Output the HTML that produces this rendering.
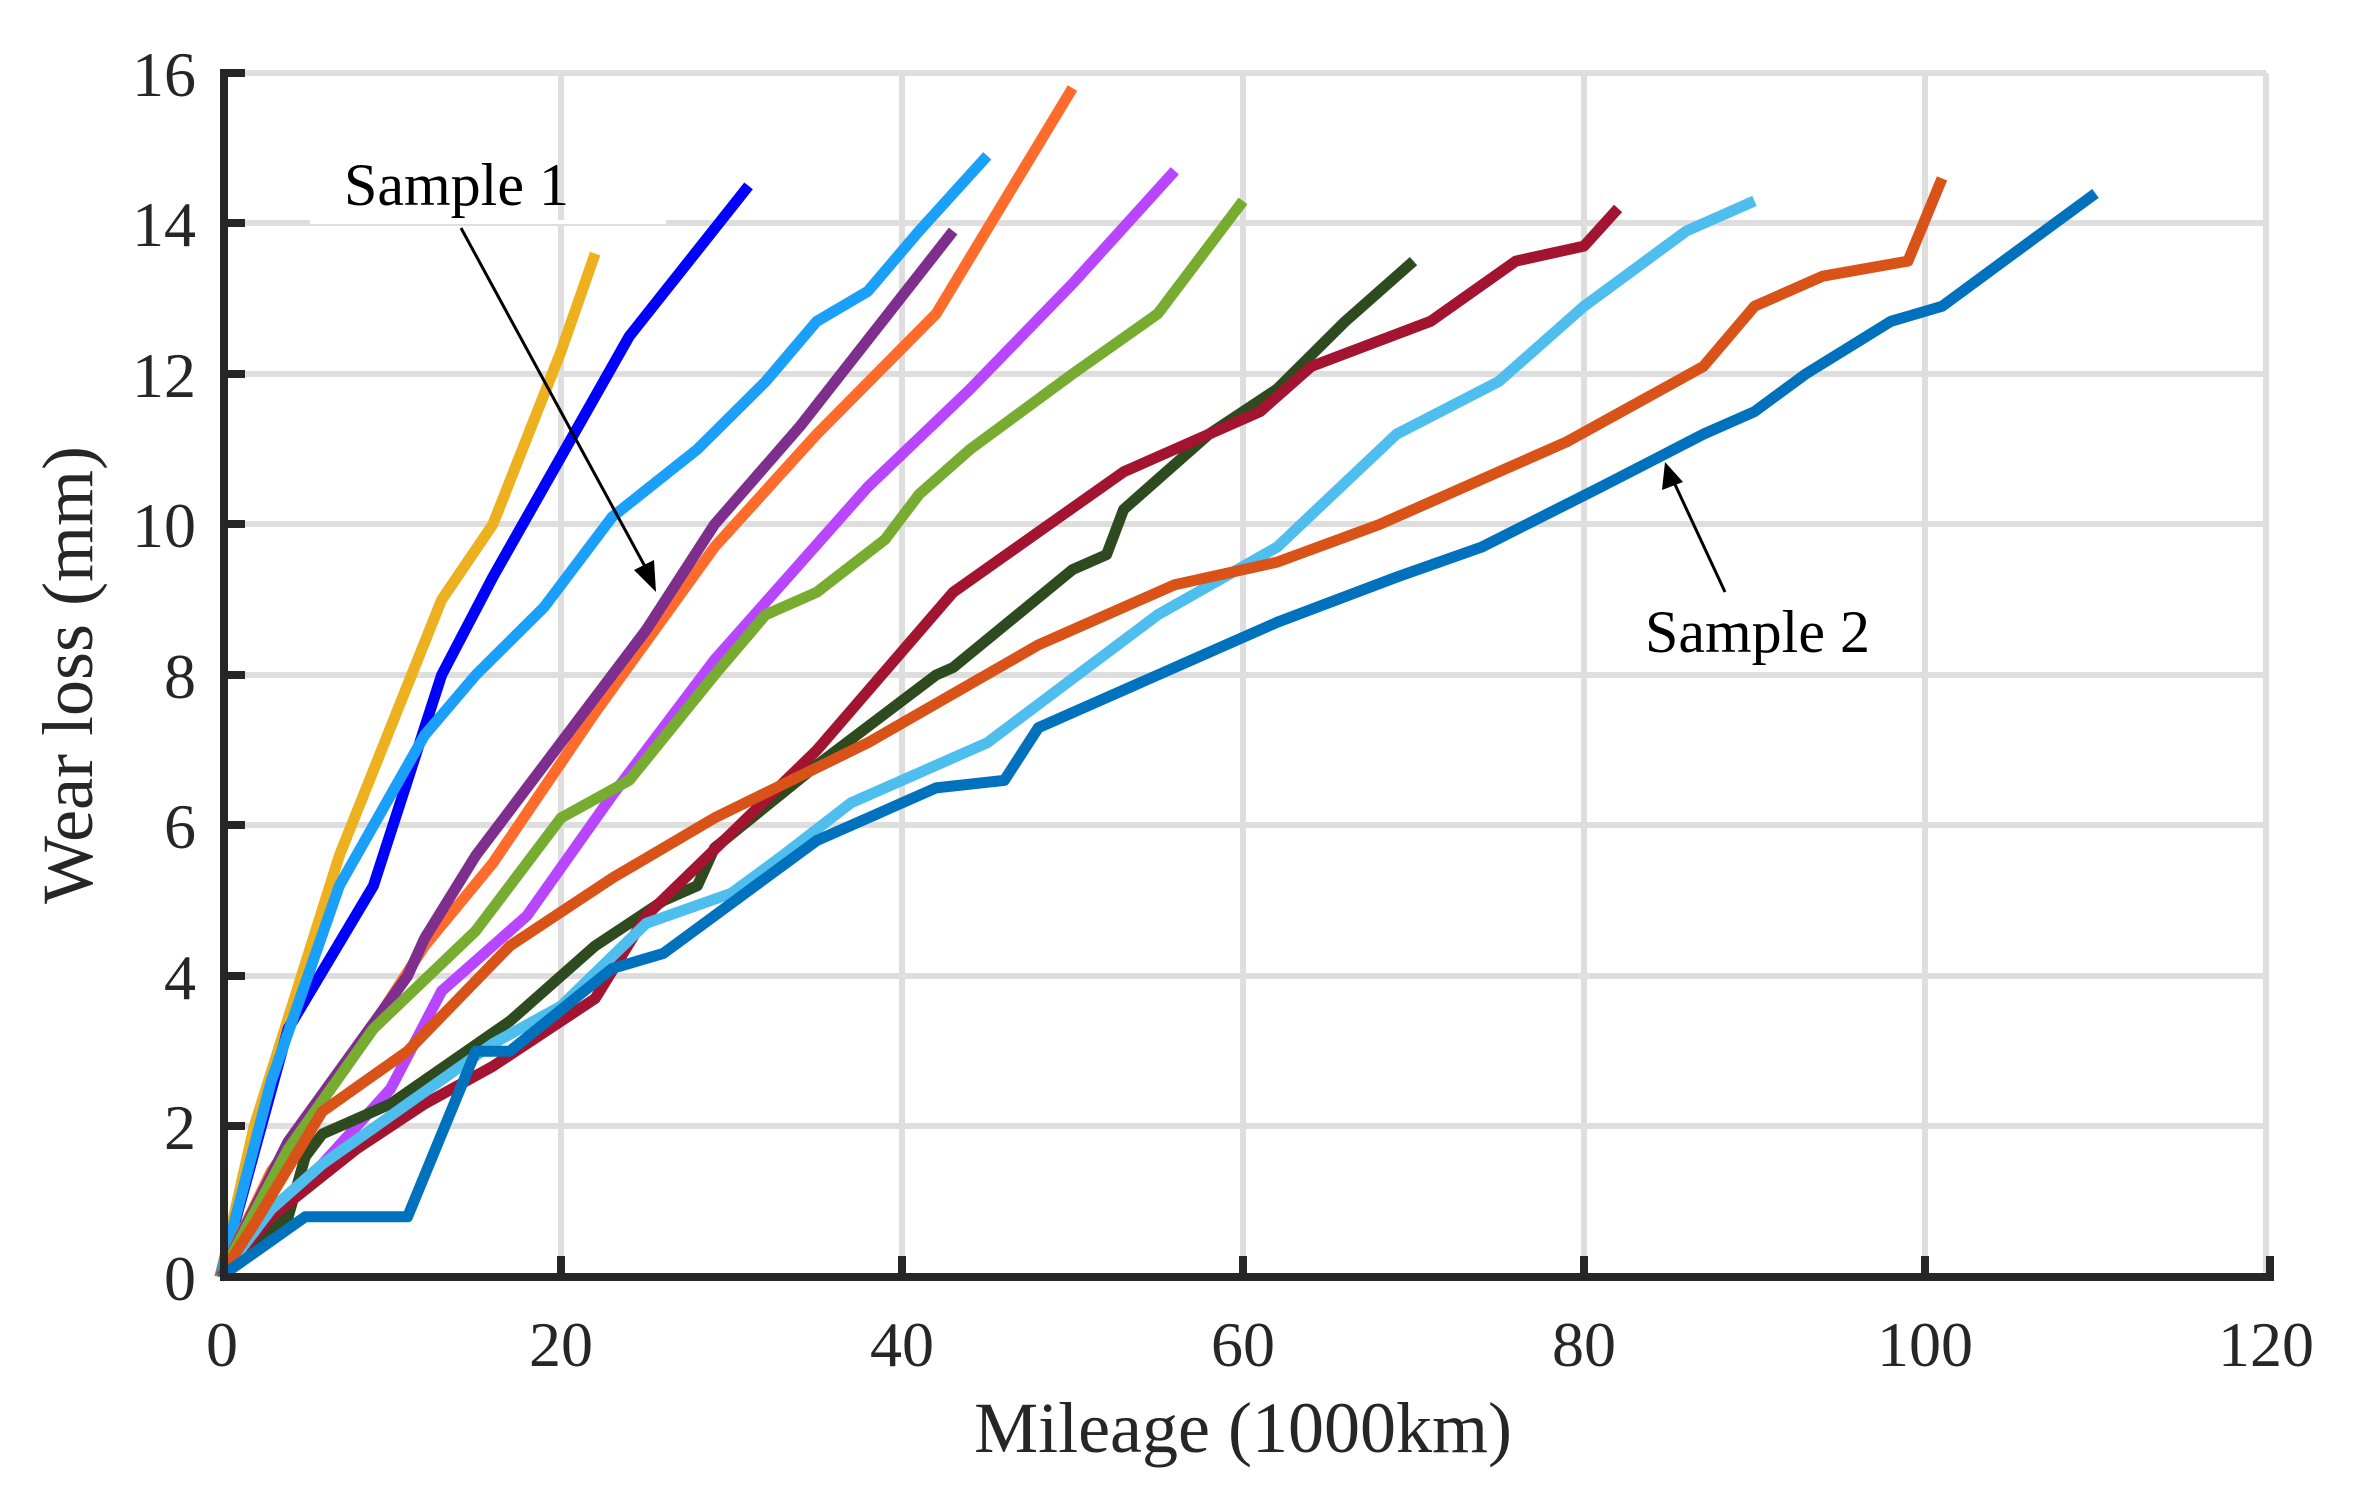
<!DOCTYPE html>
<html><head><meta charset="utf-8"><style>
html,body{margin:0;padding:0;background:#fff;}
svg{display:block;}
text{font-family:"Liberation Serif",serif;fill:#262626;}
</style></head><body>
<svg width="2367" height="1503" viewBox="0 0 2367 1503" xmlns="http://www.w3.org/2000/svg">
<g stroke="#dedede" stroke-width="6">
<line x1="561" y1="73" x2="561" y2="1273"/><line x1="902" y1="73" x2="902" y2="1273"/>
<line x1="1243" y1="73" x2="1243" y2="1273"/><line x1="1584" y1="73" x2="1584" y2="1273"/>
<line x1="1925" y1="73" x2="1925" y2="1273"/><line x1="2266" y1="73" x2="2266" y2="1273"/>
<line x1="224" y1="73" x2="2266" y2="73"/><line x1="224" y1="223" x2="2266" y2="223"/>
<line x1="224" y1="374" x2="2266" y2="374"/><line x1="224" y1="524" x2="2266" y2="524"/>
<line x1="224" y1="675" x2="2266" y2="675"/><line x1="224" y1="825" x2="2266" y2="825"/>
<line x1="224" y1="976" x2="2266" y2="976"/><line x1="224" y1="1126" x2="2266" y2="1126"/>
</g>
<g fill="none" stroke-width="11" stroke-linejoin="round" transform="translate(220,1277) scale(17.05,-75.25)">
<polyline vector-effect="non-scaling-stroke" stroke="#EDB120" points="0,0 2,2 7,5.6 13,9 16,10 20,12.3 22,13.6"/>
<polyline vector-effect="non-scaling-stroke" stroke="#0000FF" points="0,0 4,3.3 9,5.2 13,8 16,9.3 24,12.5 31,14.5"/>
<polyline vector-effect="non-scaling-stroke" stroke="#1AA0FA" points="0,0 3,2.6 7,5.2 12,7.2 15,8 19,8.9 23,10.1 28,11 32,11.9 35,12.7 38,13.1 41,13.9 45,14.9"/>
<polyline vector-effect="non-scaling-stroke" stroke="#FF6B2B" points="0,0 3,1.4 8,3 12,4.4 16,5.5 22,7.5 29,9.7 35,11.2 42,12.8 50,15.8"/>
<polyline vector-effect="non-scaling-stroke" stroke="#7E2F8E" points="0,0 4,1.8 11,4 12,4.5 15,5.6 20,7.1 25,8.6 29,10 34,11.3 43,13.9"/>
<polyline vector-effect="non-scaling-stroke" stroke="#B845FF" points="0,0 6,1.5 10,2.5 13,3.8 18,4.8 23,6.4 29,8.2 38,10.5 44,11.8 50,13.2 56,14.7"/>
<polyline vector-effect="non-scaling-stroke" stroke="#77AC30" points="0,0 4,1.7 9,3.3 15,4.6 20,6.1 24,6.6 29,8 32,8.8 35,9.1 39,9.8 41,10.4 44,11 50,12 55,12.8 60,14.3"/>
<polyline vector-effect="non-scaling-stroke" stroke="#2E4A1F" points="0,0 4,0.8 5,1.6 6,1.9 10,2.3 17,3.4 22,4.4 26,5 28,5.2 29,5.7 35,6.8 42,8 43,8.1 50,9.4 52,9.6 53,10.2 58,11.2 62,11.8 66,12.7 70,13.5"/>
<polyline vector-effect="non-scaling-stroke" stroke="#A2142F" points="0,0 3,0.8 8,1.7 12,2.3 16,2.8 22,3.7 25,4.8 30,5.9 35,7 43,9.1 48,9.9 53,10.7 61,11.5 64,12.1 71,12.7 76,13.5 80,13.7 82,14.2"/>
<polyline vector-effect="non-scaling-stroke" stroke="#4DBEEE" points="0,0 3,0.9 6,1.5 11,2.3 16,3.1 20,3.6 25,4.7 30,5.1 33,5.6 37,6.3 45,7.1 55,8.8 62,9.7 69,11.2 75,11.9 80,12.9 86,13.9 90,14.3"/>
<polyline vector-effect="non-scaling-stroke" stroke="#D95319" points="0,0 2,0.7 6,2.2 11,3 17,4.4 23,5.3 29,6.1 38,7.1 48,8.4 56,9.2 62,9.5 68,10 79,11.1 87,12.1 90,12.9 94,13.3 99,13.5 101,14.6"/>
<polyline vector-effect="non-scaling-stroke" stroke="#0072BD" points="0,0 5,0.8 11,0.8 15,3 17,3 23,4.1 26,4.3 35,5.8 42,6.5 46,6.6 48,7.3 55,8 57,8.2 62,8.7 69,9.3 74,9.7 81,10.5 87,11.2 90,11.5 93,12 98,12.7 101,12.9 110,14.4"/>
</g>
<g stroke="#262626" stroke-width="8" fill="none">
<polyline points="224,73 224,1277 2270,1277 2270,1256"/>
<line x1="220" y1="73" x2="245" y2="73"/><line x1="220" y1="223" x2="245" y2="223"/>
<line x1="220" y1="374" x2="245" y2="374"/><line x1="220" y1="524" x2="245" y2="524"/>
<line x1="220" y1="675" x2="245" y2="675"/><line x1="220" y1="825" x2="245" y2="825"/>
<line x1="220" y1="976" x2="245" y2="976"/><line x1="220" y1="1126" x2="245" y2="1126"/>
<line x1="561" y1="1281" x2="561" y2="1256"/><line x1="902" y1="1281" x2="902" y2="1256"/>
<line x1="1243" y1="1281" x2="1243" y2="1256"/><line x1="1584" y1="1281" x2="1584" y2="1256"/>
<line x1="1925" y1="1281" x2="1925" y2="1256"/>
</g>
<g font-size="64" text-anchor="end">
<text x="196" y="96">16</text><text x="196" y="246">14</text><text x="196" y="397">12</text>
<text x="196" y="547">10</text><text x="196" y="698">8</text><text x="196" y="848">6</text>
<text x="196" y="999">4</text><text x="196" y="1149">2</text><text x="196" y="1300">0</text>
</g>
<g font-size="64" text-anchor="middle">
<text x="222" y="1366">0</text><text x="561" y="1366">20</text><text x="902" y="1366">40</text>
<text x="1243" y="1366">60</text><text x="1584" y="1366">80</text><text x="1925" y="1366">100</text>
<text x="2266" y="1366">120</text>
</g>
<text x="1243" y="1452" font-size="72" text-anchor="middle">Mileage (1000km)</text>
<text transform="translate(92,675) rotate(-90)" font-size="72" text-anchor="middle">Wear loss (mm)</text>
<line x1="310" y1="222" x2="666" y2="222" stroke="#fff" stroke-width="4"/>
<text x="344" y="205" font-size="60" style="fill:#000">Sample 1</text>
<line x1="461" y1="228" x2="648" y2="572" stroke="#000" stroke-width="3"/>
<polygon points="656,592 634,570 654,560" fill="#000"/>
<text x="1645" y="652" font-size="60" style="fill:#000">Sample 2</text>
<line x1="1725" y1="592" x2="1672" y2="478" stroke="#000" stroke-width="3"/>
<polygon points="1665,462 1662,490 1683,482" fill="#000"/>
</svg>
</body></html>
